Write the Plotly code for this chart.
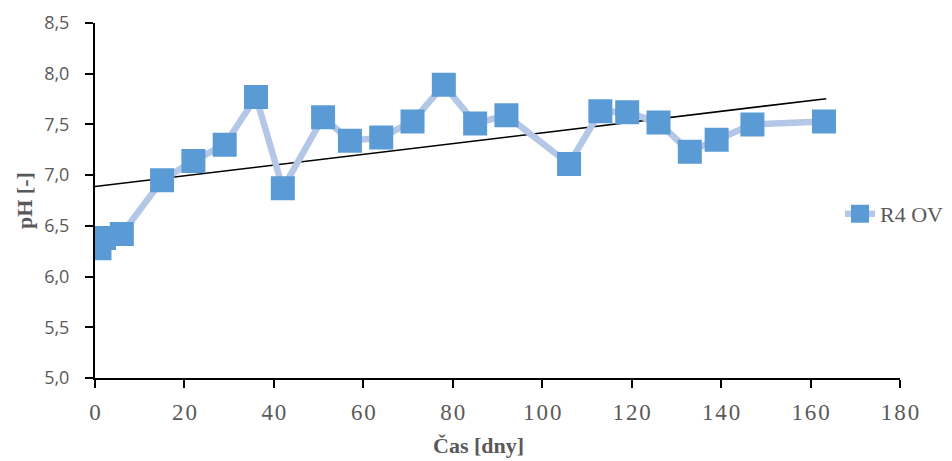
import numpy as np
import plotly.graph_objects as go

days = [1, 2, 6, 15, 22, 29, 36, 42, 51, 57, 64, 71, 78, 85, 92, 106, 113, 119, 126, 133, 139, 147, 163]
ph = [6.28, 6.38, 6.42, 6.95, 7.14, 7.30, 7.77, 6.87, 7.57, 7.34, 7.37, 7.53, 7.89, 7.51, 7.59,
      7.11, 7.63, 7.62, 7.52, 7.23, 7.35, 7.50, 7.53]
series_name = "R4 OV"
y_ticks = [5.0, 5.5, 6.0, 6.5, 7.0, 7.5, 8.0, 8.5]
y_tick_labels = ["5,0", "5,5", "6,0", "6,5", "7,0", "7,5", "8,0", "8,5"]
x_ticks = [0, 20, 40, 60, 80, 100, 120, 140, 160, 180]
x_tick_labels = ["\u200a".join(str(v)) for v in x_ticks]

slope, intercept = np.polyfit(days, ph, 1)
trend_x = [0, 163.5]
trend_y = [intercept + slope * v for v in trend_x]

fig = go.Figure()
fig.add_trace(go.Scatter(
    x=trend_x, y=trend_y, mode="lines", line=dict(color="black", width=1.6),
    showlegend=False, hoverinfo="skip"))
fig.add_trace(go.Scatter(
    x=days, y=ph, mode="lines+markers", name=series_name,
    line=dict(color="#B4C7E7", width=6.5),
    marker=dict(symbol="square", size=22, color="#5B9BD5",
                line=dict(color="#5B9BD5", width=2))))

fig.update_layout(
    width=944, height=453,
    margin=dict(l=87, r=52, t=15, b=83, autoexpand=False),
    plot_bgcolor="white", paper_bgcolor="white",
    legend=dict(x=(840 - 95) / 805, y=(378 - 214) / 355, xanchor="left", yanchor="middle",
                font=dict(family="Liberation Serif", size=22, color="#595959"),
                bgcolor="rgba(0,0,0,0)", borderwidth=0),
    xaxis=dict(range=[0, 180], tickvals=x_ticks, ticktext=x_tick_labels,
               showgrid=False, zeroline=False,
               showline=True, linecolor="black", linewidth=2,
               ticks="outside", ticklen=8, tickcolor="black", tickwidth=2,
               ticklabelstandoff=4,
               tickfont=dict(family="Liberation Serif", size=23, color="#595959")),
    yaxis=dict(range=[5.0, 8.5], tickvals=y_ticks, ticktext=y_tick_labels,
               showgrid=False, zeroline=False,
               showline=True, linecolor="black", linewidth=2,
               ticks="outside", ticklen=8, tickcolor="black", tickwidth=2,
               ticklabelstandoff=12,
               tickfont=dict(family="Open Sans", size=18, color="#595959")),
    annotations=[
        dict(text="<b>Čas [dny]</b>", xref="paper", yref="paper",
             x=(478 - 95) / 805, y=(378 - 445) / 355, xanchor="center", yanchor="middle",
             showarrow=False,
             font=dict(family="Liberation Serif", size=22, color="#595959")),
        dict(text="<b>pH [-]</b>", xref="paper", yref="paper", textangle=-90,
             x=(24 - 95) / 805, y=(378 - 201) / 355, xanchor="center", yanchor="middle",
             showarrow=False,
             font=dict(family="Liberation Serif", size=22, color="#595959")),
    ],
)

fig.write_html("out.html")
